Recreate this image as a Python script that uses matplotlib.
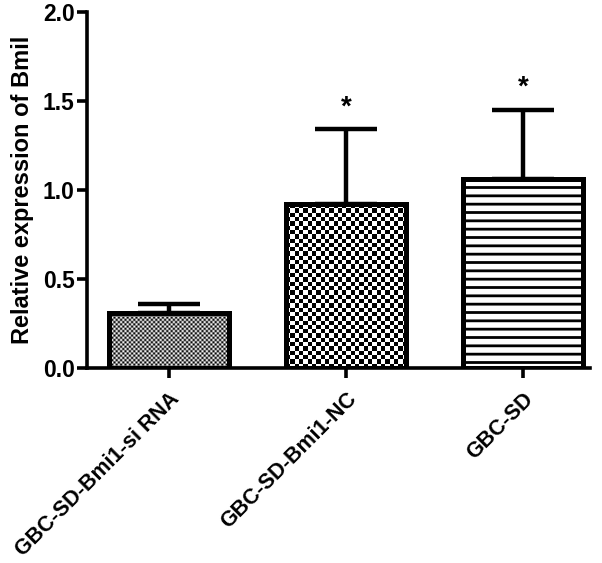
import numpy as np
import matplotlib
matplotlib.use('Agg')
import matplotlib.pyplot as plt

categories = ['GBC-SD-Bmi1-si RNA', 'GBC-SD-Bmi1-NC', 'GBC-SD']
means = [0.31, 0.92, 1.06]
errors = [0.05, 0.42, 0.39]
significance = ['', '*', '*']
y_ticks = [0.0, 0.5, 1.0, 1.5, 2.0]
y_label = 'Relative expression of Bmil'

plt.rcParams['font.family'] = ['Liberation Sans', 'DejaVu Sans']
plt.rcParams['font.weight'] = 'bold'
plt.rcParams['hatch.linewidth'] = 2.0
plt.rcParams['hatch.color'] = '#222222'

W, H = 602, 563
fig = plt.figure(figsize=(W / 100, H / 100), dpi=100)
ax = fig.add_axes([87 / W, 1 - 368 / H, (590 - 87) / W, (368 - 12) / H])

x = np.arange(len(categories))
xlim = (-0.463, 2.378)
ax.set_xlim(*xlim)
ax.set_ylim(0, 2.0)

bars = ax.bar(x, means, width=0.68, facecolor='none', edgecolor='black',
              linewidth=3.6, zorder=3)
bars[2].set_facecolor('white')
bars[2].set_hatch('--')
bars[2].set_zorder(2)
# edge on top for bar 3
ax.bar(x[2:], means[2:], width=0.68, facecolor='none', edgecolor='black',
       linewidth=3.6, zorder=3)

# checkerboard fills for first two bars
cells = [2.2, 4.3]
for p, cell in zip(bars[:2], cells):
    x0, y0, w, h = p.get_x(), p.get_y(), p.get_width(), p.get_height()
    (px0, py0), (px1, py1) = ax.transData.transform([(x0, y0), (x0 + w, y0 + h)])
    nc = max(1, int(round((px1 - px0) / cell)))
    nr = max(1, int(round((py1 - py0) / cell)))
    ii, jj = np.meshgrid(np.arange(nc), np.arange(nr))
    arr = ((ii + jj) % 2).astype(float)
    im = ax.imshow(arr, cmap='gray', vmin=0, vmax=1, extent=[x0, x0 + w, y0, y0 + h],
                   origin='lower', interpolation='antialiased', aspect='auto', zorder=2)
    im.set_clip_path(p)
ax.set_xlim(*xlim)
ax.set_ylim(0, 2.0)

eb = ax.errorbar(x, means, yerr=[np.zeros(len(means)), errors], fmt='none',
                 ecolor='black', elinewidth=3.2, capsize=22, capthick=3.2, zorder=2.5)
for ln in eb[1]:
    ln.set_solid_capstyle('round')

for xi, m, e, s in zip(x, means, errors, significance):
    if s:
        ax.text(xi, m + e + 0.05, s, ha='center', va='bottom', fontsize=20,
                fontweight='bold')

ax.spines['top'].set_visible(False)
ax.spines['right'].set_visible(False)
for sp in ['left', 'bottom']:
    ax.spines[sp].set_linewidth(2.6)

ax.set_yticks(y_ticks)
ax.set_yticklabels([f'{v:.1f}' for v in y_ticks])
ax.set_xticks(x)
ax.set_xticklabels(categories, rotation=45, ha='right', rotation_mode='anchor')
ax.tick_params(axis='both', width=2.6, length=7, direction='out')
ax.tick_params(axis='y', labelsize=16.5, pad=2)
ax.tick_params(axis='x', labelsize=15.5, pad=8)
ax.set_ylabel(y_label, fontsize=17, fontweight='bold', labelpad=6)

fig.savefig('out.png', dpi=100)
